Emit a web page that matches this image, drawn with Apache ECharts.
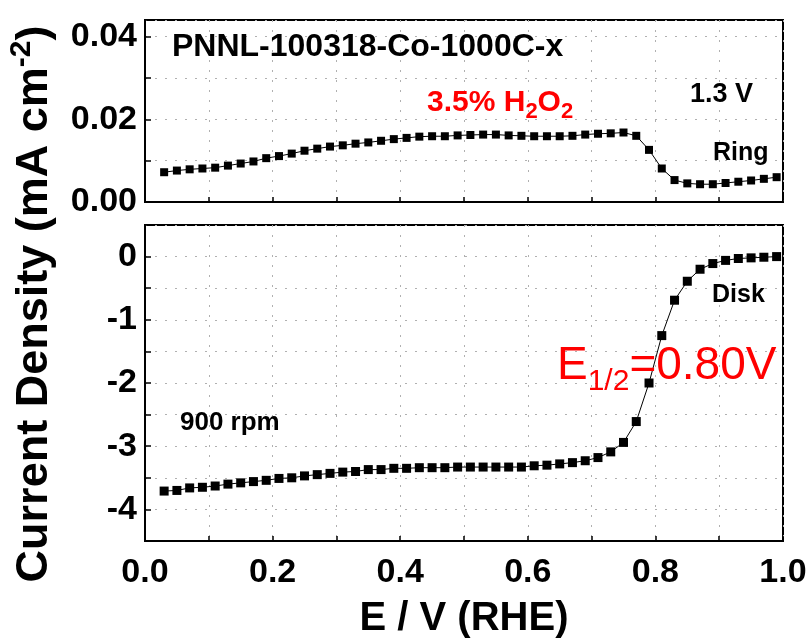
<!DOCTYPE html>
<html><head><meta charset="utf-8">
<script src="https://cdn.jsdelivr.net/npm/echarts@6/dist/echarts.min.js"></script>
<style>html,body{margin:0;padding:0;background:#fff}#c{width:810px;height:640px}</style>
</head><body><div id="c"></div>
<script>
// ---- data ----
const potential = [0.03,0.05,0.07,0.09,0.11,0.13,0.15,0.17,0.19,0.21,0.23,0.25,0.27,0.29,0.31,0.33,0.35,0.37,0.39,0.41,0.43,0.45,0.47,0.49,0.51,0.53,0.55,0.57,0.59,0.61,0.63,0.65,0.67,0.69,0.71,0.73,0.75,0.77,0.79,0.81,0.83,0.85,0.87,0.89,0.91,0.93,0.95,0.97,0.99];
const ringCurrent = [0.0072,0.0076,0.0079,0.0081,0.0083,0.0088,0.0093,0.0098,0.0106,0.0111,0.0117,0.0124,0.0129,0.0134,0.0137,0.0141,0.0144,0.0148,0.0152,0.0155,0.0158,0.0159,0.0159,0.0161,0.0162,0.0163,0.0163,0.0161,0.0160,0.0159,0.0159,0.0159,0.0160,0.0163,0.0165,0.0166,0.0168,0.0160,0.0126,0.0081,0.0053,0.0045,0.0043,0.0043,0.0046,0.0049,0.0052,0.0056,0.0060];
const diskCurrent = [-3.71,-3.70,-3.66,-3.65,-3.63,-3.60,-3.58,-3.56,-3.54,-3.51,-3.50,-3.47,-3.45,-3.43,-3.41,-3.40,-3.37,-3.37,-3.35,-3.35,-3.34,-3.34,-3.34,-3.33,-3.33,-3.33,-3.33,-3.33,-3.33,-3.31,-3.30,-3.28,-3.26,-3.23,-3.18,-3.09,-2.94,-2.61,-2.00,-1.25,-0.69,-0.39,-0.20,-0.11,-0.06,-0.03,-0.02,-0.01,0.00];
const xTickLabels = [0.0,0.2,0.4,0.6,0.8,1.0];
const ringTickLabels = [0.00,0.02,0.04];
const diskTickLabels = [0,-1,-2,-3,-4];

// ---- chart ----
const FONT = '"Liberation Sans", Arial, sans-serif';
const has = (arr, v) => arr.some(t => Math.abs(t - v) < 1e-9);
const chart = echarts.init(document.getElementById('c'), null, {renderer: 'canvas'});

const splitStyle = {show: true, lineStyle: {color: '#b0b0b0', type: [2, 8], width: 1}};
const axisLineStyle = {show: true, onZero: false, lineStyle: {color: '#000', width: 2}};
const tickLabel = {fontSize: 34, fontWeight: 'bold', color: '#000', fontFamily: FONT};

function xAxis(gridIndex, showLabels) {
  const ax = {
    type: 'value', gridIndex: gridIndex, min: 0, max: 1, interval: 0.1,
    axisLine: axisLineStyle,
    axisTick: {show: true, inside: true, length: 5, lineStyle: {color: '#000', width: 1.5}},
    axisLabel: Object.assign({show: showLabels, margin: 15,
      formatter: v => has(xTickLabels, v) ? v.toFixed(1) : ''}, tickLabel),
    splitLine: splitStyle
  };
  if (showLabels) {
    ax.name = 'E / V (RHE)';
    ax.nameLocation = 'middle';
    ax.nameGap = 58;
    ax.nameTextStyle = {fontSize: 40, fontWeight: 'bold', color: '#000', fontFamily: FONT, lineHeight: 40};
  }
  return ax;
}

const option = {
  animation: false,
  backgroundColor: '#fff',
  grid: [
    {left: 145, right: 27, top: 20, height: 182, show: true, borderColor: '#000', borderWidth: 2, backgroundColor: 'transparent'},
    {left: 145, right: 27, top: 225, height: 316, show: true, borderColor: '#000', borderWidth: 2, backgroundColor: 'transparent'}
  ],
  xAxis: [xAxis(0, false), xAxis(1, true)],
  yAxis: [
    {type: 'value', gridIndex: 0, min: 0, max: 0.044, interval: 0.01,
     axisLine: axisLineStyle,
     axisTick: {show: true, inside: true, length: 6, lineStyle: {color: '#000', width: 1.5}},
     axisLabel: Object.assign({margin: 8, formatter: v => has(ringTickLabels, v) ? v.toFixed(2) : ''}, tickLabel),
     splitLine: splitStyle},
    {type: 'value', gridIndex: 1, min: -4.5, max: 0.5, interval: 0.5,
     axisLine: axisLineStyle,
     axisTick: {show: true, inside: true, length: 6, lineStyle: {color: '#000', width: 1.5}},
     axisLabel: Object.assign({margin: 8, formatter: v => has(diskTickLabels, v) ? String(Math.round(v)) : ''}, tickLabel),
     splitLine: splitStyle}
  ],
  series: [
    {name: 'Ring', type: 'line', xAxisIndex: 0, yAxisIndex: 0,
     data: potential.map((v, i) => [v, ringCurrent[i]]),
     symbol: 'rect', symbolSize: 8, showAllSymbol: true,
     lineStyle: {color: '#000', width: 1}, itemStyle: {color: '#000'}},
    {name: 'Disk', type: 'line', xAxisIndex: 1, yAxisIndex: 1,
     data: potential.map((v, i) => [v, diskCurrent[i]]),
     symbol: 'rect', symbolSize: 9, showAllSymbol: true,
     lineStyle: {color: '#000', width: 1}, itemStyle: {color: '#000'}}
  ],
  graphic: [
    {type: 'text', x: 172, y: 47, z: 100,
     style: {text: 'PNNL-100318-Co-1000C-x', fontSize: 32, fontWeight: 'bold', fontFamily: FONT, fill: '#000', verticalAlign: 'middle'}},
    {type: 'text', x: 427, y: 88, z: 100,
     style: {text: '{m|3.5% H}{s|2}{m|O}{s|2}', verticalAlign: 'top', fill: '#ff0000',
       rich: {
         m: {fontSize: 30, fontWeight: 'bold', fontFamily: FONT, fill: '#ff0000', lineHeight: 30, verticalAlign: 'top'},
         s: {fontSize: 22, fontWeight: 'bold', fontFamily: FONT, fill: '#ff0000', lineHeight: 22, verticalAlign: 'top', padding: [13, 0, 0, 0]}
       }}},
    {type: 'text', x: 690, y: 95, z: 100,
     style: {text: '1.3 V', fontSize: 27, fontWeight: 'bold', fontFamily: FONT, fill: '#000', verticalAlign: 'middle'}},
    {type: 'text', x: 713, y: 153, z: 100,
     style: {text: 'Ring', fontSize: 25, fontWeight: 'bold', fontFamily: FONT, fill: '#000', verticalAlign: 'middle'}},
    {type: 'text', x: 712, y: 295, z: 100,
     style: {text: 'Disk', fontSize: 25, fontWeight: 'bold', fontFamily: FONT, fill: '#000', verticalAlign: 'middle'}},
    {type: 'text', x: 180, y: 423, z: 100,
     style: {text: '900 rpm', fontSize: 26, fontWeight: 'bold', fontFamily: FONT, fill: '#000', verticalAlign: 'middle'}},
    {type: 'text', x: 557, y: 343, z: 100,
     style: {text: '{m|E}{s|1/2}{m|=0.80V}', verticalAlign: 'top', fill: '#ff0000',
       rich: {
         m: {fontSize: 46, fontFamily: FONT, fill: '#ff0000', lineHeight: 46, verticalAlign: 'top'},
         s: {fontSize: 30, fontFamily: FONT, fill: '#ff0000', lineHeight: 30, verticalAlign: 'top', padding: [24, 0, 0, 0]}
       }}},
    {type: 'text', x: 29, y: 304, rotation: Math.PI / 2, z: 100,
     style: {text: '{m|Current Density (mA cm}{p|-2}{m|)}', align: 'center', verticalAlign: 'middle', fill: '#000',
       rich: {
         m: {fontSize: 45, fontWeight: 'bold', fontFamily: FONT, fill: '#000', lineHeight: 45, verticalAlign: 'top', padding: [6, 0, 0, 0]},
         p: {fontSize: 30, fontWeight: 'bold', fontFamily: FONT, fill: '#000', lineHeight: 30, verticalAlign: 'top'}
       }}}
  ]
};
chart.setOption(option);
</script>
</body></html>
